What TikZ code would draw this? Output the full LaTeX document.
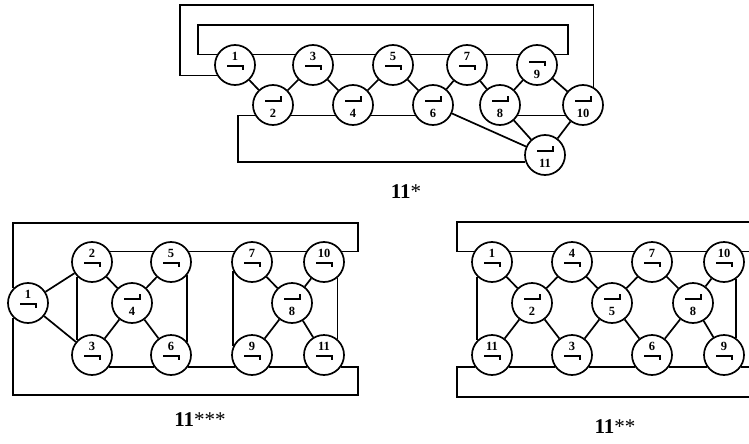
\documentclass[tikz,border=0pt]{standalone}
\usepackage{fontspec}
\setmainfont{Liberation Serif}
\begin{document}
\begin{tikzpicture}[x=1pt, y=-1pt, line width=1.7pt,
		vx/.style={circle, draw, minimum size=40pt, inner sep=0pt},
		symline/.style={line width=1.5pt},
		numfont/.style={font=\bfseries\fontsize{12.5}{12.5}\selectfont, inner sep=0pt},
		numtop/.style={vx, label={[numfont, yshift=8.5pt]center:#1},
			path picture={\draw[symline] ([shift={(-8pt,-1pt)}]path picture bounding box.center) -- ++(16pt,0pt) -- ++(0pt,-4pt);}},
		numbot/.style={vx, label={[numfont, yshift=-8pt]center:#1},
			path picture={\draw[symline] ([shift={(-8pt,4pt)}]path picture bounding box.center) -- ++(16pt,0pt) -- ++(0pt,5pt);}},
		hookbot/.style={vx, label={[numfont, yshift=-9pt]center:#1},
			path picture={\draw[symline] ([shift={(-8pt,3pt)}]path picture bounding box.center) -- ++(16pt,0pt) -- ++(0pt,-4pt);}},
		caption/.style={font=\bfseries\fontsize{21}{21}\selectfont, inner sep=0pt}]
		\useasboundingbox (0,0) rectangle (749,444);

		\node[numtop=1] (a1) at (235,65) {};
		\node[numbot=2] (a2) at (273,105) {};
		\node[numtop=3] (a3) at (313,65) {};
		\node[numbot=4] (a4) at (353,105) {};
		\node[numtop=5] (a5) at (393,65) {};
		\node[numbot=6] (a6) at (433,105) {};
		\node[numtop=7] (a7) at (467,65) {};
		\node[numbot=8] (a8) at (500,105) {};
		\node[hookbot=9] (a9) at (537,65) {};
		\node[numbot=10] (a10) at (583,105) {};
		\node[numbot=11] (a11) at (545,155) {};
		\node[caption] (a0) at (406,192) {11\textmd{*}};

		\draw (a1.30) -- (a3.150) (a3.30) -- (a5.150) (a5.30) -- (a7.150) (a7.30) -- (a9.150);
		\draw (a2.330) -- (a4.210) (a4.330) -- (a6.210) (a8.330) -- (a10.210);
		\draw (a1) -- (a2) -- (a3) -- (a4) -- (a5) -- (a6) -- (a7) -- (a8) -- (a9) -- (a10) -- (a11) -- (a8) (a6) -- (a11);
		\draw (a1.210) -| (180,5) -| (a10.60);
		\draw (a1.150) -| (198,25) -| (568,40) |- (a9.30);
		\draw (a11.200) -| (238,130) |- (a2.210);

		\node[numtop=1] (b1) at (28,303) {};
		\node[numtop=2] (b2) at (92,262) {};
		\node[numtop=3] (b3) at (92,355) {};
		\node[numbot=4] (b4) at (132,303) {};
		\node[numtop=5] (b5) at (171,262) {};
		\node[numtop=6] (b6) at (171,355) {};
		\node[numtop=7] (b7) at (252,262) {};
		\node[numbot=8] (b8) at (292,303) {};
		\node[numtop=9] (b9) at (252,355) {};
		\node[numtop=10] (b10) at (324,262) {};
		\node[numtop=11] (b11) at (324,355) {};
		\node[caption] (b0) at (200,420) {11\textmd{***}};

		\draw (b1) -- (b2) -- (b4) -- (b3) -- (b1) (b4) -- (b5) (b4) -- (b6);
		\draw (b7) -- (b8) -- (b9) (b10) -- (b8) -- (b11);
		\draw (b2.30) -- (b5.150) (b5.30) -- (b7.150) (b7.30) -- (b10.150);
		\draw (b3.325) -- (b6.215) (b6.325) -- (b9.215) (b9.325) -- (b11.215);
		\draw (b2.225) -- (b3.135) (b5.320) -- (b6.40) (b7.205) -- (b9.155) (b10.310) -- (b11.50);
		\draw (b1.135) |- (358,223) |- (b10.30);
		\draw (b1.225) |- (358,395) |- (b11.325);

		\coordinate (rimtop) at (749,222);
		\coordinate (rimbot) at (749,397);
		\node[numtop=1] (c1) at (492,262) {};
		\node[numbot=2] (c2) at (532,303) {};
		\node[numtop=3] (c3) at (572,355) {};
		\node[numtop=4] (c4) at (572,262) {};
		\node[numbot=5] (c5) at (612,303) {};
		\node[numtop=6] (c6) at (652,355) {};
		\node[numtop=7] (c7) at (652,262) {};
		\node[numbot=8] (c8) at (693,303) {};
		\node[numtop=9] (c9) at (724,355) {};
		\node[numtop=10] (c10) at (724,262) {};
		\node[numtop=11] (c11) at (492,355) {};
		\node[caption] (c0) at (615,427) {11\textmd{**}};

		\draw (c1) -- (c2) -- (c4) (c11) -- (c2) -- (c3) (c4) -- (c5) -- (c7) (c3) -- (c5) -- (c6);
		\draw (c7) -- (c8) -- (c10) (c6) -- (c8) -- (c9);
		\draw (c1.30) -- (c4.150) (c4.30) -- (c7.150) (c7.30) -- (c10.150);
		\draw (c11.325) -- (c3.215) (c3.325) -- (c6.215) (c6.325) -- (c9.215);
		\draw (c1.225) -- (c11.135) (c10.305) -- (c9.55);
		\draw (c1.150) -| (457,237) |- (rimtop) (c10.30) -- (c10.30 -| rimtop);
		\draw (c11.215) -| (457,380) |- (rimbot) (c9.325) -- (c9.325 -| rimbot);
	\end{tikzpicture}
\end{document}
